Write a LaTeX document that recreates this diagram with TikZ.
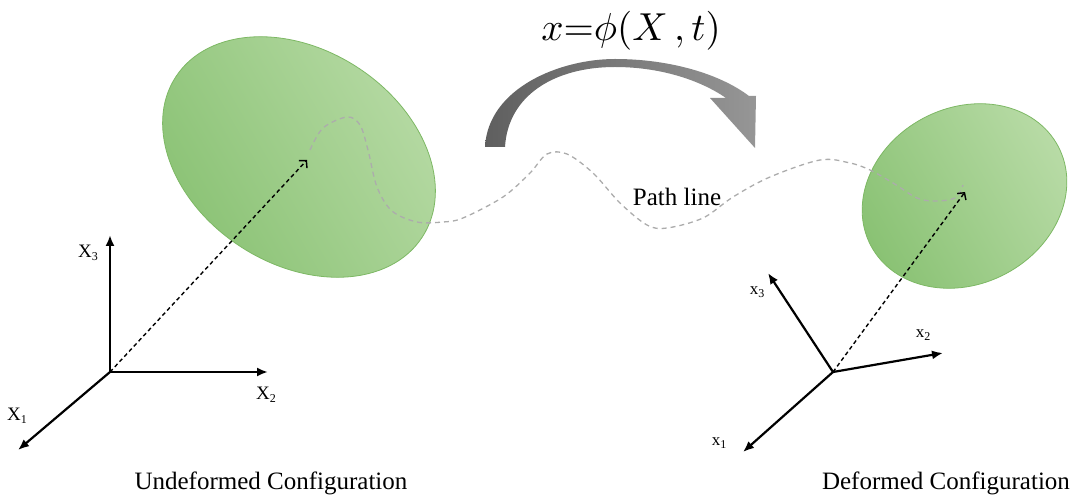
\documentclass[tikz,border=0pt]{standalone}
\usepackage{fontspec}
\setmainfont{Liberation Serif}
\usetikzlibrary{arrows.meta}
\definecolor{gdark}{RGB}{136,193,114}
\definecolor{glight}{RGB}{184,219,166}
\definecolor{gedge}{RGB}{125,184,100}
\definecolor{pathgray}{RGB}{172,172,172}
\definecolor{adark}{RGB}{95,95,95}
\definecolor{alight}{RGB}{150,150,150}
\newcommand\mysub[1]{\raisebox{-0.4ex}{\fontsize{12}{12}\selectfont #1}}
\tikzset{
  body/.style={draw=gedge, line width=0.8pt, left color=gdark, right color=glight, shading angle=120},
  axis/.style={line width=2.2pt, -{Latex[length=11pt,width=9pt]}},
  posvec/.style={line width=1.4pt, dash pattern=on 4pt off 3pt, -{Straight Barb[length=5pt,width=11pt]}},
  pathln/.style={draw=pathgray, line width=1.3pt, dash pattern=on 5pt off 4pt},
  biglbl/.style={font=\fontsize{19}{22}\selectfont, inner sep=0pt},
  smalllbl/.style={font=\fontsize{17}{20}\selectfont, inner sep=0pt},
  caption/.style={font=\fontsize{25}{30}\selectfont, inner sep=0pt},
  maparrow/.style={left color=adark, right color=alight, draw=none}
}
\begin{document}
\begin{tikzpicture}[x=1pt,y=-1pt]
\useasboundingbox (0,0) rectangle (1082,502);
% bodies
\path[body, rotate around={-33:(299,157)}] (299,157) ellipse [x radius=147, y radius=107];
\path[body, rotate around={28:(964.5,196)}] (964.5,196) ellipse [x radius=106, y radius=88];
% path line
\draw[pathln] plot[smooth, tension=0.55] coordinates {(310,150) (323,128) (347,117) (360,125) (368,150) (377,187) (392,211) (417,222) (443,222) (463,218) (503,197) (530,173) (547,154) (567,154) (593,173) (620,203) (647,225) (667,228) (703,218) (733,197) (770,177) (820,160) (850,163) (870,170) (893,183) (917,198) (935,201) (955,198) (963,185)};
% coordinates
\coordinate (O1) at (110,372);
\coordinate (A13) at (110,235);
\coordinate (A12) at (268,372);
\coordinate (A11) at (18,450);
\coordinate (P1) at (307,160);
\coordinate (O2) at (833,372);
\coordinate (A23) at (768,273);
\coordinate (A22) at (943,353);
\coordinate (A21) at (743,452);
\coordinate (P2) at (965,192);
% axes
\draw[axis] (O1) -- (A13);
\draw[axis] (O1) -- (A12);
\draw[axis] (O1) -- (A11);
\draw[axis] (O2) -- (A23);
\draw[axis] (O2) -- (A22);
\draw[axis] (O2) -- (A21);
% position vectors
\draw[posvec] (O1) -- (P1);
\draw[posvec] (O2) -- (P2);
% labels
\node[biglbl] (l13) at (88,253) {X\mysub{3}};
\node[biglbl] (l12) at (266,395) {X\mysub{2}};
\node[biglbl] (l11) at (17,416) {X\mysub{1}};
\node[smalllbl] (l23) at (757,292) {x\mysub{3}};
\node[smalllbl] (l22) at (923,335) {x\mysub{2}};
\node[smalllbl] (l21) at (719,443) {x\mysub{1}};
% mapping arrow
\shade[maparrow] (505,147) .. controls (508,95) and (555,67) .. (615,67)
  .. controls (660,67) and (700,80) .. (726,98) -- (710,98) -- (755,148) -- (756,96) -- (749,96)
  .. controls (720,74) and (670,59) .. (615,59)
  .. controls (560,59) and (488,88) .. (485,147) -- cycle;
\node[anchor=base, inner sep=0pt] (phi) at (631,41) {\scalebox{3.9}{$x{=}\phi(X\,,t)$}};
\node[caption] (pl) at (677,197) {Path line};
\node[caption] (c1) at (271,483) {Undeformed Configuration};
\node[caption] (c2) at (946,483) {Deformed Configuration};
\end{tikzpicture}
\end{document}
